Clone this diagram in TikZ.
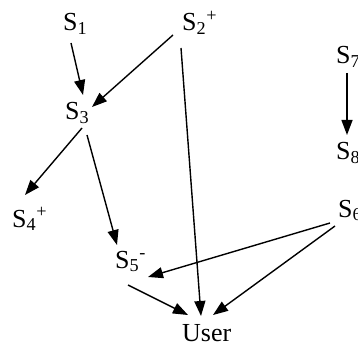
\documentclass[tikz,border=0pt]{standalone}
\usepackage{fontspec}
\setmainfont{Liberation Serif}
\usetikzlibrary{arrows.meta}

\begin{document}
\begin{tikzpicture}[
  x=1pt,y=-1pt,
  state/.style={inner sep=0pt,anchor=base west,font=\fontsize{26}{30}\selectfont},
  arrow/.style={-{Triangle[length=15pt,width=11pt]},draw=black,line width=1.4pt}
]
  \useasboundingbox (0,0) rectangle (358,347);
  \node[state] (s1) at (63,31) {S\textsubscript{1}};
  \node[state] (s2) at (182,31) {S\textsubscript{2}\textsuperscript{+}};
  \node[state] (s3) at (65,120) {S\textsubscript{3}};
  \node[state] (s4) at (12,227) {S\textsubscript{4}\textsuperscript{+}};
  \node[state] (s5) at (115,268) {S\textsubscript{5}\textsuperscript{-}};
  \node[state] (s6) at (338,217) {S\textsubscript{6}};
  \node[state] (s7) at (336,64) {S\textsubscript{7}};
  \node[state] (s8) at (336,160) {S\textsubscript{8}};
  \node[state] (user) at (182,341) {User};
  \draw[arrow] ([shift={(8,12)}]s1.base west) -- ([shift={(18,-25)}]s3.base west);
  \draw[arrow] ([shift={(-9,4)}]s2.base west) -- ([shift={(27,-13)}]s3.base west);
  \draw[arrow] ([shift={(17,8)}]s3.base west) -- ([shift={(13,-32)}]s4.base west);
  \draw[arrow] ([shift={(22,15)}]s3.base west) -- ([shift={(2,-23)}]s5.base west);
  \draw[arrow] ([shift={(-1,17)}]s2.base west) -- ([shift={(19,-25)}]user.base west);
  \draw[arrow] ([shift={(-8,6)}]s6.base west) -- ([shift={(33,9)}]s5.base west);
  \draw[arrow] ([shift={(-3,9)}]s6.base west) -- ([shift={(31,-26)}]user.base west);
  \draw[arrow] ([shift={(13,17)}]s5.base west) -- ([shift={(6,-26)}]user.base west);
  \draw[arrow] ([shift={(11,9)}]s7.base west) -- ([shift={(11,-25)}]s8.base west);
\end{tikzpicture}
\end{document}
